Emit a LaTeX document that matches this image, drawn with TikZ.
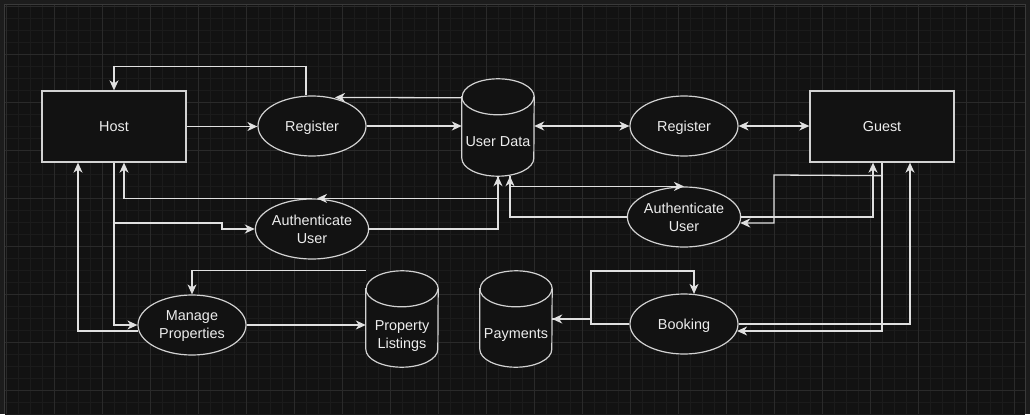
\documentclass[tikz,border=0pt]{standalone}
\usepackage{fontspec}
\setmainfont{Liberation Sans}
\usetikzlibrary{arrows.meta,calc,shapes.geometric}
\definecolor{outerbg}{HTML}{1C1C1C}
\definecolor{innerbg}{HTML}{121212}
\definecolor{frameln}{HTML}{3A3A3A}
\definecolor{minorgrid}{HTML}{1B1B1B}
\definecolor{majorgrid}{HTML}{2A2A2A}
\definecolor{shapeln}{HTML}{D2D2D2}
\definecolor{connln}{HTML}{E0E0E0}
\definecolor{txtcol}{HTML}{EDEDED}
\definecolor{shapefill}{HTML}{121212}
\tikzset{
  lbl/.style={text=txtcol, font=\fontsize{14.4}{18}\selectfont, align=center, text depth=0pt},
  boxnode/.style={lbl, draw=shapeln, line width=1.3pt, fill=shapefill, minimum width=144pt, minimum height=71pt, inner sep=0pt},
  procnode/.style={lbl, ellipse, draw=shapeln, line width=1.2pt, fill=shapefill, minimum width=108pt, minimum height=60pt, inner sep=0pt},
  cylnode/.style={minimum width=72pt, minimum height=97pt, inner sep=0pt},
  cylline/.style={draw=shapeln, line width=1.2pt, fill=shapefill},
  arr/.style={draw=connln, line width=1.3pt, -{Stealth[length=10pt,width=9pt,inset=3pt]}},
  darr/.style={draw=connln, line width=1.3pt, {Stealth[length=10pt,width=9pt,inset=3pt]}-{Stealth[length=10pt,width=9pt,inset=3pt]}},
}
\newcommand\drawcylinder[1]{%
  \draw[cylline] ($(#1.north west)+(0,18)$) -- ($(#1.south west)+(0,-18)$)
    arc[start angle=180, end angle=0, x radius=36, y radius=18]
    -- ($(#1.north east)+(0,18)$)
    arc[start angle=0, end angle=-180, x radius=36, y radius=18] -- cycle;
  \draw[cylline, fill=none] ($(#1.north west)+(0,18)$)
    arc[start angle=180, end angle=0, x radius=36, y radius=18];
}
\begin{document}
\begin{tikzpicture}[x=1pt, y=-1pt]
% background
\fill[outerbg] (0,0) rectangle (1030,414);
\fill[innerbg] (5,5) rectangle (1025,414);
\foreach \gx in {6,18,...,1024} { \draw[minorgrid, line width=0.6pt] (\gx,5) -- (\gx,414); }
\foreach \gy in {6,18,...,414} { \draw[minorgrid, line width=0.6pt] (5,\gy) -- (1025,\gy); }
\foreach \gx in {6,54,...,1024} { \draw[majorgrid, line width=0.7pt] (\gx,5) -- (\gx,414); }
\foreach \gy in {6,54,...,414} { \draw[majorgrid, line width=0.7pt] (5,\gy) -- (1025,\gy); }
\draw[frameln, line width=1pt] (4.5,414) -- (4.5,4.5) -- (1025.5,4.5) -- (1025.5,414);
\useasboundingbox (0,0) rectangle (1030,414);

% nodes
\node[boxnode] (host) at (114,126.5) {Host};
\node[procnode] (reg1) at (312,126) {Register};
\node[cylnode] (ud) at (498,127.5) {};
\drawcylinder{ud}
\node[lbl] (udlbl) at (498,142) {User Data};
\node[procnode] (reg2) at (684,126) {Register};
\node[boxnode] (guest) at (882,126.5) {Guest};
\node[procnode] (auth1) at (312,229) {Authenticate\\User};
\node[procnode] (auth2) at (684,217) {Authenticate\\User};
\node[procnode] (mp) at (192,325) {Manage\\Properties};
\node[cylnode, minimum height=96pt] (pl) at (402,319) {};
\drawcylinder{pl}
\node[lbl] (pllbl) at (402,335) {Property\\Listings};
\node[cylnode, minimum height=96pt] (pay) at (516,319) {};
\drawcylinder{pay}
\node[lbl] (paylbl) at (516,334) {Payments};
\node[procnode] (book) at (684,324) {Booking};

% connectors
\draw[arr] (host.east) -- (reg1.west |- host.east);
\draw[arr] ($(reg1.north)+(-6,0)$) -- ++(0,-29) -| (host.north);
\draw[arr] (reg1.east) -- (reg1.east -| ud.west);
\draw[arr] ($(ud.north west)+(0,19)$) -- ($(reg1.north)+(23,2)$);
\draw[darr] (reg2.west -| ud.east) -- (reg2.west);
\draw[darr] (reg2.east) -- (reg2.east -| guest.west);
\draw[arr] (auth2.east) -| ($(guest.south)+(-9,0)$);
\draw[arr] (guest.south) -- ++(0,13) -- (774,175) -- (774,223) -- ($(auth2.east)+(-1,6)$);
\draw[arr] (guest.south) -- (882,331) -- ($(book.east)+(-1.5,7)$);
\draw[arr] (book.east) -| ($(guest.south)+(28,0)$);
\draw[arr] (auth2.west) -| ($(ud.south)+(12,0)$);
\draw[arr] ($(ud.south)+(12,0)$) |- (auth2.north);
\draw[arr] (auth1.east) -| (ud.south);
\draw[arr] (ud.south) |- ($(auth1.north)+(5,0)$);
\draw[arr] (auth1.north) -| ($(host.south)+(10,0)$);
\draw[arr] (host.south) |- (222,223) |- (auth1.west);
\draw[arr] (host.south) |- (mp.west);
\draw[arr] ($(mp.west)+(1,6)$) -| ($(host.south)+(-36,0)$);
\draw[arr] (mp.east) -- (mp.east -| pl.west);
\draw[arr] (pl.north west) -| (mp.north);
\draw[arr] (book.west) -- (591,324) |- (pay.east);
\draw[arr] (pay.east) -- (591,319) -- (591,271) -| ($(book.north)+(10,0.5)$);
\end{tikzpicture}
\end{document}
